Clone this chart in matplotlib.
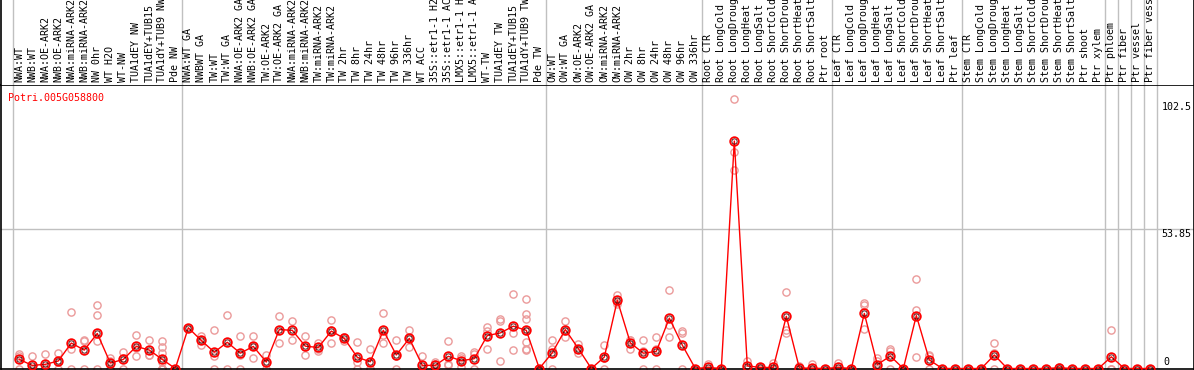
import matplotlib
matplotlib.use('Agg')
import matplotlib.pyplot as plt

gene = 'Potri.005G058800'

labels = ['NWA:WT', 'NWB:WT', 'NWA:OE-ARK2', 'NWB:OE-ARK2', 'NWA:miRNA-ARK2', 'NWB:miRNA-ARK2',
          'NW 0hr', 'WT H2O', 'WT-NW', 'TUA1dEY NW', 'TUA1dEY+TUB15', 'TUA1dY+TUB9 NW', 'Pde NW',
          'NWA:WT GA', 'NWBWT GA', 'TW:WT', 'TW:WT GA', 'NWA:OE-ARK2 GA', 'NWB:OE-ARK2 GA',
          'TW:OE-ARK2', 'TW:OE-ARK2 GA', 'NWA:miRNA-ARK2', 'NWB:miRNA-ARK2', 'TW:miRNA-ARK2',
          'TW:miRNA-ARK2', 'TW 2hr', 'TW 8hr', 'TW 24hr', 'TW 48hr', 'TW 96hr', 'TW 336hr',
          'WT ACC', '35S::etr1-1 H2', '35S::etr1-1 AC', 'LMX5::etr1-1 H', 'LMX5::etr1-1 A',
          'WT-TW', 'TUA1dEY TW', 'TUA1dEY+TUB15', 'TUA1dY+TUB9 TW', 'Pde TW',
          'OW:WT', 'OW:WT GA', 'OW:OE-ARK2', 'OW:OE-ARK2 GA', 'OW:miRNA-ARK2', 'OW:miRNA-ARK2',
          'OW 2hr', 'OW 8hr', 'OW 24hr', 'OW 48hr', 'OW 96hr', 'OW 336hr',
          'Root CTR', 'Root LongCold', 'Root LongDroug', 'Root LongHeat', 'Root LongSalt',
          'Root ShortCold', 'Root ShortDrou', 'Root ShortHeat', 'Root ShortSalt', 'Ptr root',
          'Leaf CTR', 'Leaf LongCold', 'Leaf LongDroug', 'Leaf LongHeat', 'Leaf LongSalt',
          'Leaf ShortCold', 'Leaf ShortDrou', 'Leaf ShortHeat', 'Leaf ShortSalt', 'Ptr leaf',
          'Stem CTR', 'Stem LongCold', 'Stem LongDroug', 'Stem LongHeat', 'Stem LongSalt',
          'Stem ShortCold', 'Stem ShortDrou', 'Stem ShortHeat', 'Stem ShortSalt', 'Ptr shoot',
          'Ptr xylem', 'Ptr phloem', 'Ptr fiber', 'Ptr vessel', 'Ptr fiber vess']

# number of samples in each block between the grey separators
group_sizes = [13, 28, 12, 10, 10, 11, 1, 1, 1, 1]

means = [3.5, 1.2, 1.6, 2.9, 9.8, 7.1, 13.5, 2.1, 3.5, 8.5, 7.1, 3.5, 0,
         15.7, 10.8, 6.3, 10.1, 5.9, 8.5, 2.5, 15.0, 14.7, 8.6, 8.1, 14.4, 11.6, 4.3, 2.6,
         14.7, 5.2, 11.6, 1.2, 1.2, 4.7, 3.0, 3.8, 12.7, 13.7, 16.3, 14.7, 0,
         6.1, 15.0, 7.7, 0, 4.4, 26.3, 9.9, 5.9, 6.6, 19.4, 9.0, 0,
         0.4, 0, 87.6, 1.0, 0.4, 0.4, 20.1, 0.2, 0.1, 0,
         0.4, 0, 21.2, 1.5, 4.8, 0, 20.4, 3.3, 0, 0,
         0, 0, 5.2, 0, 0, 0, 0, 0.3, 0, 0, 0,
         4.5, 0, 0, 0]

replicates = [
    [5.6, 4.8, 0], [4.8, 0, 0, 0], [5.6, 0, 0], [5.9, 2.9, 0], [21.8, 7.4, 0],
    [11.1, 10.5, 0], [24.3, 20.8, 10.5, 0], [3.9, 2.7, 0], [6.3, 4.2, 0], [12.9, 8.0, 4.7],
    [10.8, 5.2, 5.3], [10.5, 8.1, 6.0, 2.5, 0, 0, 0, 0], [0, 0, 0],
    [15.7, 15.7], [12.6, 9.0, 10.8], [14.7, 4.7, 0], [20.8, 0], [12.6, 5.2, 0],
    [12.6, 8.7, 4.2], [5.2, 2.3, 0], [20.1, 9.9], [18.2, 11.1], [12.5, 8.1, 5.2],
    [9.9, 6.8, 7.6], [18.5, 9.7, 15.0], [12.3, 10.5, 12.0], [10.1, 2.6, 0], [7.7, 0, 0],
    [21.3, 13.0, 9.7], [10.9, 4.7, 0], [15.0, 11.6, 8.1], [4.8, 0, 0, 0], [2.6, 1.9, 0, 0.3],
    [10.5, 1.9, 1.2], [4.8, 3.9, 0.5], [6.3, 5.6, 0], [16.0, 14.3, 7.7], [19.0, 18.4, 2.9],
    [28.6, 13.5, 7.0], [26.7, 21.0, 19.0, 14.5, 10.3, 7.7, 7.0], [0, 0, 0],
    [10.9, 7.4, 0], [18.2, 14.5, 12.3], [9.3, 7.7, 6.1], [0, 0, 0], [9.2, 4.0, 0],
    [28.2, 25.7, 25.0], [11.1, 11.1, 7.5], [11.1, 6.6, 0], [12.0, 7.7, 0], [30.1, 16.7, 12.0],
    [14.5, 13.5, 0], [0, 0, 0],
    [1.7, 0, 0], [0, 0], [104.0, 83.3, 76.4], [3.0, 0, 0], [0.6, 0.4, 0], [2.0, 0, 0],
    [29.5, 14.8, 13.7], [1.0, 0, 0], [1.9, 0, 0], [0, 0],
    [2.2, 0, 0], [0, 0], [25.3, 24.3, 15.2], [3.9, 2.9, 0], [7.7, 6.8, 0], [0, 0, 0],
    [34.6, 22.5, 4.5], [4.8, 5.2, 0], [0, 0], [0, 0],
    [0, 0], [0, 0], [9.7, 6.1, 0], [0, 0], [0, 0], [0, 0], [0, 0], [0.6, 0.3, 0],
    [0, 0], [0, 0], [0, 0],
    [14.8, 0, 0], [0, 0], [0, 0], [0, 0]]

y_marks = [102.5, 53.85, 0]

plt.rcParams['font.family'] = 'DejaVu Sans Mono'
W, H = 1194, 370
fig = plt.figure(figsize=(W / 100, H / 100), dpi=100)

ax = fig.add_axes([0.5 / W, 1 / H, (W - 1) / W, 284 / H])
head = fig.add_axes([0.5 / W, 285 / H, (W - 1) / W, 85 / H], sharex=ax)

x = list(range(len(labels)))
ax.set_xlim(-1.446, 90.32)
ax.set_ylim(-0.19, 109.2)
head.set_ylim(0, 1)

for a in (ax, head):
    a.set_xticks([])
    a.set_yticks([])
    for s in a.spines.values():
        s.set_color('black')
        s.set_linewidth(1.2)
head.spines['top'].set_visible(False)
head.spines['bottom'].set_visible(False)

# grey separators between sample blocks
edge = -0.5
seps = [edge]
for g in group_sizes:
    edge += g
    seps.append(edge)
for s in seps:
    ax.axvline(s, color='#c0c0c0', lw=1, zorder=0)
    head.axvline(s, color='#c0c0c0', lw=1, zorder=0)
ax.axhline(y_marks[1], color='#c0c0c0', lw=1, zorder=0)

# replicate values
for i, reps in enumerate(replicates):
    ax.plot([i] * len(reps), reps, 'o', ms=5.2, mfc='none', mec='#eb9a9a', mew=1.0, zorder=2)

# mean profile
ax.plot(x, means, '-', color='red', lw=1, zorder=3)
ax.plot(x, means, 'o', ms=6.2, mfc='none', mec='red', mew=1.3, zorder=4)
ax.plot(x, means, 'o', ms=3.8, mfc='none', mec='#400000', mew=0.6, zorder=5)

for i, lab in enumerate(labels):
    head.text(i, 0.035, lab, rotation=90, ha='center', va='bottom', fontsize=7.2, color='black')

ax.text(8 / W, 0.955, gene, transform=ax.transAxes, color='red', fontsize=7.2, ha='left', va='center')

# value marks on the right side
tr = ax.get_yaxis_transform()
xm = 1162 / W
ax.text(xm, y_marks[0], str(y_marks[0]), transform=tr, ha='left', va='top', fontsize=7.2)
ax.text(xm, y_marks[1], str(y_marks[1]), transform=tr, ha='left', va='top', fontsize=7.2)
ax.text(xm + 2 / W, y_marks[2] + 0.6, str(y_marks[2]), transform=tr, ha='left', va='bottom', fontsize=7.2)

fig.savefig('out.png', dpi=100)
